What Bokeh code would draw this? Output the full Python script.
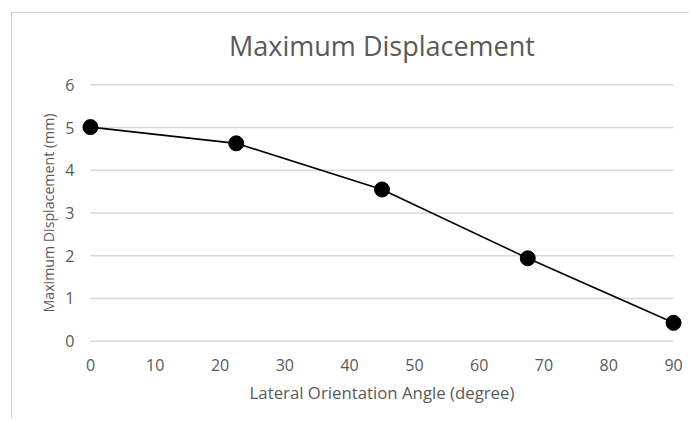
from bokeh.plotting import figure
from bokeh.models import Range1d, FixedTicker
from bokeh.embed import file_html
from bokeh.resources import INLINE

angles = [0, 22.5, 45, 67.5, 90]
displacement = [5.01, 4.63, 3.55, 1.94, 0.43]
x_ticks = [0, 10, 20, 30, 40, 50, 60, 70, 80, 90]
y_ticks = [0, 1, 2, 3, 4, 5, 6]

FONT = "Open Sans"
TXT = "#595959"
GRID = "#d9d9d9"
EDGE = "#d0d0d0"

p = figure(width=678, height=412, output_backend="svg", toolbar_location=None,
           x_range=Range1d(-2, 92), y_range=Range1d(-0.1, 6.1),
           title="Maximum Displacement",
           min_border_left=66, min_border_right=3, min_border_top=74, min_border_bottom=73)
# chart-area edge (top and left) drawn behind a transparent border area
p.styles = {
    "margin-left": "11px",
    "margin-top": "6px",
    "background": (f"linear-gradient({EDGE},{EDGE}) 0px 6px / 100% 1px no-repeat, "
                   f"linear-gradient({EDGE},{EDGE}) 0px 6px / 1px 100% no-repeat"),
}
p.border_fill_color = None
p.outline_line_color = None
p.xgrid.visible = False
p.ygrid.visible = False

p.title.align = "center"
p.title.text_font = FONT
p.title.text_font_size = "27px"
p.title.text_font_style = "normal"
p.title.text_color = TXT
p.title.standoff = 33

# horizontal gridlines spanning the data extent
p.segment(x0=[angles[0]] * len(y_ticks), x1=[angles[-1]] * len(y_ticks), y0=y_ticks, y1=y_ticks,
          line_color=GRID, line_width=1.5)

p.line(angles, displacement, line_color="black", line_width=1.6)
p.scatter(angles, displacement, size=15, fill_color="black", line_color="black")

for ax in (p.xaxis[0], p.yaxis[0]):
    ax.axis_line_color = None
    ax.major_tick_line_color = None
    ax.minor_tick_line_color = None
    ax.major_label_text_font = FONT
    ax.major_label_text_font_size = "16px"
    ax.major_label_text_color = TXT
    ax.axis_label_text_font = FONT
    ax.axis_label_text_font_style = "normal"
    ax.axis_label_text_color = TXT

p.yaxis.major_tick_out = 0
p.yaxis.major_tick_in = 0
p.yaxis.minor_tick_out = 0
p.xaxis.axis_label_text_font_size = "16.8px"
p.yaxis.axis_label_text_font_size = "14.2px"
p.xaxis.ticker = FixedTicker(ticks=x_ticks)
p.yaxis.ticker = FixedTicker(ticks=y_ticks)
p.xaxis.axis_label = "Lateral Orientation Angle (degree)"
p.yaxis.axis_label = "Maximum Displacement (mm)"
p.xaxis.major_label_standoff = 7
p.xaxis.axis_label_standoff = 7
p.yaxis.major_label_standoff = 3
p.yaxis.axis_label_standoff = 4

open("out.html", "w").write(file_html(p, INLINE))
